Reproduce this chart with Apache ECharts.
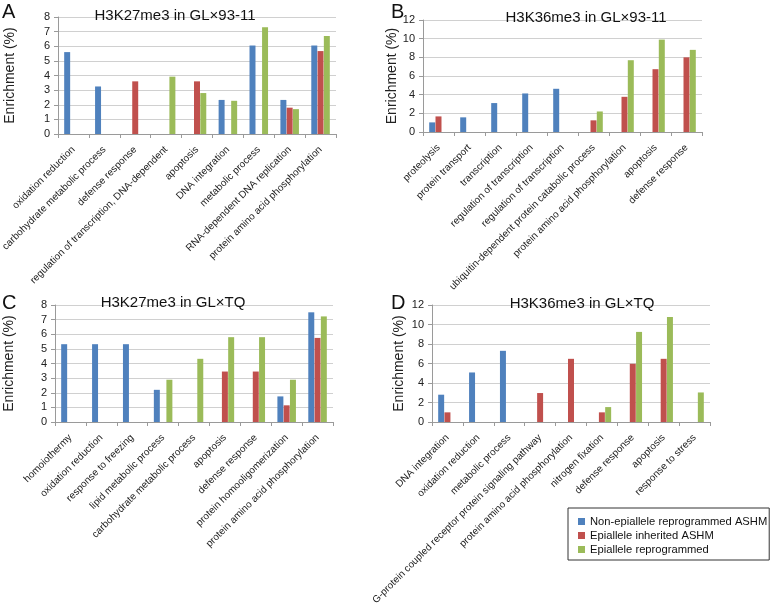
<!DOCTYPE html>
<html lang="en">
<head>
    <meta charset="UTF-8">
    <title>Enrichment</title>
    <style>
        html, body { margin: 0; padding: 0; background: #fff; }
        #container { width: 778px; height: 609px; }
    </style>
</head>
<script type="text/javascript" src="https://fastly.jsdelivr.net/npm/echarts@6/dist/echarts.min.js"></script>
<body>
<div id="container"></div>

<script type="text/javascript">
    // panel A: H3K27me3 in GL×93-11
    var catsA = ['oxidation reduction', 'carbohydrate metabolic process', 'defense response',
        'regulation of transcription, DNA-dependent', 'apoptosis', 'DNA integration',
        'metabolic process', 'RNA-dependent DNA replication', 'protein amino acid phosphorylation'];
    var blueA = [5.6, 3.25, null, null, null, 2.33, 6.05, 2.33, 6.05];
    var redA = [null, null, 3.6, null, 3.6, null, null, 1.8, 5.67];
    var greenA = [null, null, null, 3.92, 2.8, 2.27, 7.3, 1.7, 6.7];

    // panel B: H3K36me3 in GL×93-11
    var catsB = ['proteolysis', 'protein transport', 'transcription', 'regulation of transcription',
        'regulation of transcription', 'ubiquitin-dependent protein catabolic process',
        'protein amino acid phosphorylation', 'apoptosis', 'defense response'];
    var blueB = [1.03, 1.57, 3.1, 4.13, 4.63, null, null, null, null];
    var redB = [1.67, null, null, null, null, 1.25, 3.77, 6.73, 8.0];
    var greenB = [null, null, null, null, null, 2.2, 7.69, 9.9, 8.8];

    // panel C: H3K27me3 in GL×TQ
    var catsC = ['homoiothermy', 'oxidation reduction', 'response to freezing', 'lipid metabolic process',
        'carbohydrate metabolic process', 'apoptosis', 'defense response',
        'protein homooligomerization', 'protein amino acid phosphorylation'];
    var blueC = [5.32, 5.32, 5.32, 2.2, null, null, null, 1.75, 7.5];
    var redC = [null, null, null, null, null, 3.45, 3.45, 1.14, 5.75];
    var greenC = [null, null, null, 2.89, 4.32, 5.8, 5.8, 2.89, 7.22];

    // panel D: H3K36me3 in GL×TQ
    var catsD = ['DNA integration', 'oxidation reduction', 'metabolic process',
        'G-protein coupled receptor protein signaling pathway', 'protein amino acid phosphorylation',
        'nitrogen fixation', 'defense response', 'apoptosis', 'response to stress'];
    var blueD = [2.8, 5.08, 7.3, null, null, null, null, null, null];
    var redD = [0.99, null, null, 2.97, 6.48, 0.99, 5.97, 6.48, null];
    var greenD = [null, null, null, null, null, 1.53, 9.24, 10.77, 3.03];

    var seriesNames = ['Non-epiallele reprogrammed ASHM', 'Epiallele inherited ASHM', 'Epiallele reprogrammed'];
    var colors = ['#4F81BD', '#C0504D', '#9BBB59'];
    var titles = ['H3K27me3 in GL×93-11', 'H3K36me3 in GL×93-11', 'H3K27me3 in GL×TQ', 'H3K36me3 in GL×TQ'];
    var letters = ['A', 'B', 'C', 'D'];

    var panels = [
        {cats: catsA, data: [blueA, redA, greenA], max: 8, step: 1},
        {cats: catsB, data: [blueB, redB, greenB], max: 12, step: 2},
        {cats: catsC, data: [blueC, redC, greenC], max: 8, step: 1},
        {cats: catsD, data: [blueD, redD, greenD], max: 12, step: 2}
    ];

    var grids = [
        {left: 58, top: 17, width: 278, height: 117, outerBoundsMode: 'none'},
        {left: 423, top: 20, width: 279, height: 112, outerBoundsMode: 'none'},
        {left: 55, top: 305, width: 278, height: 117, outerBoundsMode: 'none'},
        {left: 432, top: 305, width: 278, height: 117, outerBoundsMode: 'none'}
    ];
    var nameGaps = [41, 14, 39, 26];
    var titlePos = [[170, 3], [581, 5], [168, 290], [577, 291]];
    var letterPos = [[2, 2], [391, 2], [2, 293], [391, 293]];

    var font = 'Arial, "Liberation Sans", sans-serif';

    var xAxes = [], yAxes = [], series = [], titleList = [];
    for (var i = 0; i < panels.length; i++) {
        var p = panels[i];
        xAxes.push({
            type: 'category',
            gridIndex: i,
            data: p.cats,
            axisLine: {lineStyle: {color: '#9a9a9a'}},
            axisTick: {show: true, length: 4, lineStyle: {color: '#9a9a9a'}},
            axisLabel: {interval: 0, rotate: 45, fontSize: 10, color: '#222', fontFamily: font, margin: 14}
        });
        yAxes.push({
            type: 'value',
            gridIndex: i,
            min: 0,
            max: p.max,
            interval: p.step,
            name: 'Enrichment (%)',
            nameLocation: 'middle',
            nameGap: nameGaps[i],
            nameTextStyle: {fontSize: 14, color: '#222', fontFamily: font},
            axisLine: {show: true, lineStyle: {color: '#9a9a9a'}},
            axisTick: {show: true, length: 4, lineStyle: {color: '#9a9a9a'}},
            axisLabel: {fontSize: 11, color: '#222', fontFamily: font, margin: 8},
            splitLine: {lineStyle: {color: '#d0d0d0'}}
        });
        for (var s = 0; s < 3; s++) {
            series.push({
                name: seriesNames[s],
                type: 'bar',
                xAxisIndex: i,
                yAxisIndex: i,
                data: p.data[s],
                barGap: '5%',
                barCategoryGap: '40%',
                itemStyle: {color: colors[s]}
            });
        }
        titleList.push({
            text: titles[i],
            left: titlePos[i][0],
            top: titlePos[i][1],
            textAlign: 'center',
            textStyle: {fontSize: 15, fontWeight: 'normal', color: '#111', fontFamily: font}
        });
        titleList.push({
            text: letters[i],
            left: letterPos[i][0],
            top: letterPos[i][1],
            padding: 0,
            textStyle: {fontSize: 20, fontWeight: 'normal', color: '#111', fontFamily: font}
        });
    }

    var myChart = echarts.init(document.getElementById('container'), null, {renderer: 'canvas'});
    var option = {
        animation: false,
        backgroundColor: '#fff',
        color: colors,
        title: titleList,
        legend: {
            data: seriesNames,
            orient: 'vertical',
            left: 568,
            top: 508,
            padding: [8, 2, 5, 10],
            itemGap: 3,
            itemWidth: 7,
            itemHeight: 7,
            icon: 'rect',
            borderColor: '#333',
            borderWidth: 1,
            backgroundColor: '#fff',
            textStyle: {fontSize: 11.2, color: '#111', fontFamily: font}
        },
        grid: grids,
        xAxis: xAxes,
        yAxis: yAxes,
        series: series
    };
    myChart.setOption(option);
</script>
</body>
</html>
